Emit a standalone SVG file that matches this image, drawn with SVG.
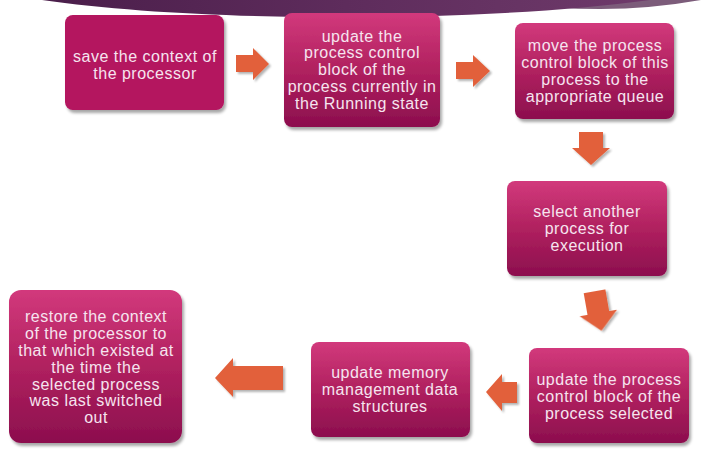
<svg xmlns="http://www.w3.org/2000/svg" width="701" height="456" viewBox="0 0 701 456">
<defs>
<linearGradient id="boxg" x1="0" y1="0" x2="0" y2="1">
<stop offset="0" stop-color="#d2397c"/>
<stop offset="0.5" stop-color="#b0215f"/>
<stop offset="1" stop-color="#8c0e4e"/>
</linearGradient>
<linearGradient id="banner" x1="0" y1="0" x2="1" y2="0">
<stop offset="0" stop-color="#4a1e4a"/>
<stop offset="0.5" stop-color="#5e2c5c"/>
<stop offset="1" stop-color="#6e3a6a"/>
</linearGradient>
<filter id="sh" x="-10%" y="-10%" width="125%" height="125%">
<feGaussianBlur in="SourceAlpha" stdDeviation="1.5"/>
<feOffset dx="2" dy="3" result="b"/>
<feComponentTransfer><feFuncA type="linear" slope="0.35"/></feComponentTransfer>
<feMerge><feMergeNode/><feMergeNode in="SourceGraphic"/></feMerge>
</filter>
<filter id="ash" x="-20%" y="-20%" width="150%" height="150%">
<feGaussianBlur in="SourceAlpha" stdDeviation="1.2"/>
<feOffset dx="2" dy="2"/>
<feComponentTransfer><feFuncA type="linear" slope="0.3"/></feComponentTransfer>
<feMerge><feMergeNode/><feMergeNode in="SourceGraphic"/></feMerge>
</filter>
</defs>
<style>
.box{fill:url(#boxg);filter:url(#sh);}
.flat{fill:#b4135f;filter:url(#sh);}
.t{font-family:"Liberation Sans",Arial,sans-serif;font-size:16px;letter-spacing:0.5px;fill:#f6e4ef;text-anchor:middle;}
.arr{fill:#e2603b;filter:url(#ash);}
</style>
<rect width="701" height="456" fill="#ffffff"/>
<g id="banner">
<path d="M500 0 Q600 18 701 0 Z" fill="#7c5c7a"/>
<path d="M42 0 C200 23 480 23 650 0 Z" fill="url(#banner)"/>
</g>
<g id="connectors">
<path class="arr" d="M236 55 H253 V48 L269 64 L253 80 V72 H236 Z"/>
<path class="arr" d="M456 62 H473 V55 L490 71 L473 87 V79 H456 Z"/>
<path class="arr" d="M579 132 H603 V148 H610 L591 165 L572 148 H579 Z"/>
<path class="arr" transform="rotate(-10 598 311)" d="M587 291 H609 V313 H617 L598 331 L579 313 H587 Z"/>
<path class="arr" d="M517 382 H502 V374 L486 392 L502 411 V403 H517 Z"/>
<path class="arr" d="M283 366 H233 V358 L215 378 L233 397 V390 H283 Z"/>
</g>
<g id="n1">
<rect class="flat" x="65" y="15" width="159" height="95" rx="8"/>
<text class="t" x="145" y="62">save the context of</text>
<text class="t" x="145" y="79">the processor</text>
</g>
<g id="n2">
<rect class="box" x="284" y="13" width="156" height="114" rx="8"/>
<text class="t" x="362" y="42">update the</text>
<text class="t" x="362" y="58">process control</text>
<text class="t" x="362" y="75">block of the</text>
<text class="t" x="362" y="92">process currently in</text>
<text class="t" x="362" y="109">the Running state</text>
</g>
<g id="n3">
<rect class="box" x="515" y="23" width="159" height="96" rx="8"/>
<text class="t" x="595" y="51">move the process</text>
<text class="t" x="595" y="68">control block of this</text>
<text class="t" x="595" y="85">process to the</text>
<text class="t" x="595" y="102">appropriate queue</text>
</g>
<g id="n4">
<rect class="box" x="507" y="181" width="160" height="95" rx="8"/>
<text class="t" x="587" y="217">select another</text>
<text class="t" x="587" y="234">process for</text>
<text class="t" x="587" y="251">execution</text>
</g>
<g id="n5">
<rect class="box" x="529" y="348" width="160" height="95" rx="8"/>
<text class="t" x="609" y="385">update the process</text>
<text class="t" x="609" y="402">control block of the</text>
<text class="t" x="609" y="419">process selected</text>
</g>
<g id="n6">
<rect class="box" x="311" y="342" width="159" height="95" rx="8"/>
<text class="t" x="390" y="378">update memory</text>
<text class="t" x="390" y="395">management data</text>
<text class="t" x="390" y="412">structures</text>
</g>
<g id="n7">
<rect class="box" x="9" y="290" width="173" height="153" rx="12"/>
<text class="t" x="96" y="322">restore the context</text>
<text class="t" x="96" y="339">of the processor to</text>
<text class="t" x="96" y="356">that which existed at</text>
<text class="t" x="96" y="373">the time the</text>
<text class="t" x="96" y="390">selected process</text>
<text class="t" x="96" y="406">was last switched</text>
<text class="t" x="96" y="423">out</text>
</g>
</svg>
